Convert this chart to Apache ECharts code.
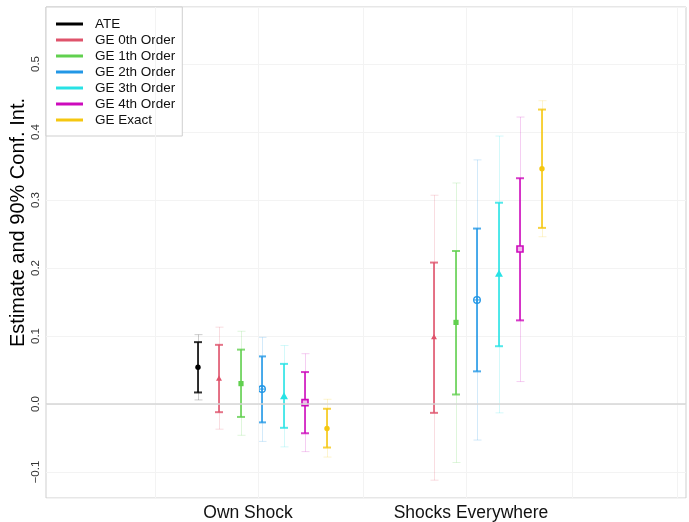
<!DOCTYPE html>
<html><head><meta charset="utf-8">
<script src="https://cdn.jsdelivr.net/npm/echarts@6/dist/echarts.min.js"></script>
<style>html,body{margin:0;padding:0;background:#fff}#c{width:689px;height:522px}</style>
</head><body><div id="c"></div>
<script>
// ---- data ----
const groups = ['Own Shock', 'Shocks Everywhere'];
const estimators = ['ATE', 'GE 0th Order', 'GE 1th Order', 'GE 2th Order', 'GE 3th Order', 'GE 4th Order', 'GE Exact'];
const yTickValues = [-0.1, 0.0, 0.1, 0.2, 0.3, 0.4, 0.5];
const yTickLabels = ['\u22120.1', '0.0', '0.1', '0.2', '0.3', '0.4', '0.5'];

// Own Shock
const estOwn    = [0.054, 0.037, 0.030, 0.022, 0.011, 0.002, -0.036];
const lo90Own   = [0.017, -0.012, -0.019, -0.027, -0.035, -0.043, -0.064];
const hi90Own   = [0.091, 0.087, 0.080, 0.070, 0.059, 0.047, -0.007];
const loWideOwn = [0.006, -0.037, -0.046, -0.055, -0.063, -0.070, -0.078];
const hiWideOwn = [0.102, 0.113, 0.107, 0.098, 0.086, 0.074, 0.007];

// Shocks Everywhere (no ATE)
const estAll    = [null, 0.098, 0.120, 0.153, 0.191, 0.228, 0.346];
const lo90All   = [null, -0.013, 0.014, 0.048, 0.085, 0.123, 0.259];
const hi90All   = [null, 0.208, 0.225, 0.258, 0.296, 0.332, 0.433];
const loWideAll = [null, -0.112, -0.086, -0.053, -0.013, 0.033, 0.246];
const hiWideAll = [null, 0.307, 0.325, 0.359, 0.394, 0.422, 0.446];

// ---- style / layout ----
const colors = ['#000000', '#DF536B', '#61D04F', '#2297E6', '#28E2E5', '#CD0BBC', '#F5C710'];
const markers = ['dot', 'triSmall', 'square', 'circlePlus', 'tri', 'squareOpen', 'dot'];
const dodge = 0.1;
const vGrid = [0.496, 0.982, 1.468, 1.954, 2.440, 2.927];
const FONT = "'Liberation Sans', Arial, Helvetica, sans-serif";

function seriesData(k) {
  const out = [];
  const sets = [
    [estOwn, lo90Own, hi90Own, loWideOwn, hiWideOwn],
    [estAll, lo90All, hi90All, loWideAll, hiWideAll]
  ];
  sets.forEach((s, g) => {
    if (s[0][k] === null) return;
    const x = (g + 1) + (k - 3) * dodge;
    out.push([x, s[0][k], s[1][k], s[2][k], s[3][k], s[4][k]]);
  });
  return out;
}

function makeRender(k) {
  return function (params, api) {
    const x = api.value(0);
    const pE = api.coord([x, api.value(1)]);
    const pL = api.coord([x, api.value(2)]);
    const pH = api.coord([x, api.value(3)]);
    const pWL = api.coord([x, api.value(4)]);
    const pWH = api.coord([x, api.value(5)]);
    const c = colors[k];
    const xi = Math.round(pE[0]);
    const x1 = xi + 0.5;
    const cap = 4;
    const ch = [];
    const wide = { stroke: c, lineWidth: 1, opacity: 0.2 };
    ch.push({ type: 'line', shape: { x1: x1, y1: pWL[1], x2: x1, y2: pWH[1] }, style: wide });
    ch.push({ type: 'line', shape: { x1: x1 - cap, y1: pWL[1], x2: x1 + cap, y2: pWL[1] }, style: wide });
    ch.push({ type: 'line', shape: { x1: x1 - cap, y1: pWH[1], x2: x1 + cap, y2: pWH[1] }, style: wide });
    const inner = { stroke: c, lineWidth: 2, opacity: 0.8 };
    ch.push({ type: 'line', shape: { x1: xi, y1: pL[1], x2: xi, y2: pH[1] }, style: inner });
    ch.push({ type: 'line', shape: { x1: xi - cap, y1: pL[1], x2: xi + cap, y2: pL[1] }, style: inner });
    ch.push({ type: 'line', shape: { x1: xi - cap, y1: pH[1], x2: xi + cap, y2: pH[1] }, style: inner });
    const cx = xi, cy = pE[1];
    const m = markers[k];
    if (m === 'dot') {
      ch.push({ type: 'circle', shape: { cx: cx, cy: cy, r: 2.7 }, style: { fill: c } });
    } else if (m === 'triSmall' || m === 'tri') {
      const s = m === 'tri' ? 4.4 : 3.3;
      ch.push({ type: 'polygon', shape: { points: [[cx, cy - s], [cx - s * 0.9, cy + s * 0.6], [cx + s * 0.9, cy + s * 0.6]] }, style: { fill: c } });
    } else if (m === 'square') {
      ch.push({ type: 'rect', shape: { x: cx - 2.6, y: cy - 2.6, width: 5.2, height: 5.2 }, style: { fill: c } });
    } else if (m === 'circlePlus') {
      ch.push({ type: 'circle', shape: { cx: cx, cy: cy, r: 3.3 }, style: { fill: 'none', stroke: c, lineWidth: 1.3 } });
      ch.push({ type: 'line', shape: { x1: cx - 3.3, y1: cy, x2: cx + 3.3, y2: cy }, style: { stroke: c, lineWidth: 1 } });
      ch.push({ type: 'line', shape: { x1: cx, y1: cy - 3.3, x2: cx, y2: cy + 3.3 }, style: { stroke: c, lineWidth: 1 } });
    } else if (m === 'squareOpen') {
      ch.push({ type: 'rect', shape: { x: cx - 3, y: cy - 3, width: 6, height: 6 }, style: { fill: '#f2b8ec', stroke: c, lineWidth: 1.6 } });
    }
    return { type: 'group', children: ch };
  };
}

const series = [{
  type: 'line', data: [], xAxisIndex: 0, yAxisIndex: 0, z: 1, silent: true,
  markLine: {
    silent: true, symbol: 'none', label: { show: false }, animation: false,
    data: vGrid.map(v => ({ xAxis: v, lineStyle: { color: '#f3f3f3', width: 1, type: 'solid' } }))
      .concat([{ yAxis: 0, lineStyle: { color: '#d6d6d6', width: 1.5, type: 'solid' } }])
  }
}];
estimators.forEach((name, k) => {
  series.push({
    name: name, type: 'custom', xAxisIndex: 0, yAxisIndex: 0, z: 3,
    itemStyle: { color: colors[k] },
    encode: { x: 0, y: [1, 2, 3, 4, 5] },
    renderItem: makeRender(k),
    data: seriesData(k)
  });
});

const chart = echarts.init(document.getElementById('c'), null, { renderer: 'canvas' });
chart.setOption({
  animation: false,
  backgroundColor: '#ffffff',
  textStyle: { fontFamily: FONT },
  grid: { left: 46, right: 3, top: 7, bottom: 24, show: true, borderColor: '#cfcfcf', borderWidth: 1, containLabel: false, outerBoundsMode: 'none' },
  legend: {
    orient: 'vertical', left: 46, top: 7,
    data: estimators.map(n => ({ name: n, icon: 'rect' })),
    itemWidth: 27, itemHeight: 3, itemGap: 0,
    padding: [9, 7, 8, 10],
    backgroundColor: '#ffffff', borderColor: '#cfcfcf', borderWidth: 1, borderRadius: 0,
    textStyle: { fontFamily: FONT, fontSize: 13.5, color: '#111', lineHeight: 16, padding: [0, 0, 0, 7] },
    selectedMode: false
  },
  xAxis: [{
    type: 'value', position: 'top', min: -0.006, max: 2.971, show: false
  }, {
    type: 'value', position: 'bottom', min: 0.0942, max: 2.964,
    axisLine: { show: false }, axisTick: { show: false }, splitLine: { show: false },
    axisLabel: {
      show: true, margin: 6, fontSize: 17.5, color: '#111', fontFamily: FONT,
      showMinLabel: false, showMaxLabel: false,
      formatter: v => {
        for (let i = 0; i < groups.length; i++) if (Math.abs(v - (i + 1)) < 1e-6) return groups[i];
        return '';
      }
    }
  }],
  yAxis: {
    type: 'value', min: -0.1382, max: 0.5838, splitNumber: 7,
    name: 'Estimate and 90% Conf. Int.', nameLocation: 'middle', nameGap: 18, nameMoveOverlap: false,
    nameTextStyle: { fontSize: 20, color: '#000', fontFamily: FONT, padding: [0, 0, 0, 60] },
    axisLine: { show: false }, axisTick: { show: false },
    splitLine: { show: true, lineStyle: { color: '#f3f3f3', width: 1 } },
    axisLabel: {
      rotate: 90, margin: 4, fontSize: 11.5, color: '#333', fontFamily: FONT,
      showMinLabel: false, showMaxLabel: false,
      formatter: v => {
        for (let i = 0; i < yTickValues.length; i++) if (Math.abs(v - yTickValues[i]) < 1e-6) return yTickLabels[i];
        return '';
      }
    }
  },
  series: series
});
</script>
</body></html>
